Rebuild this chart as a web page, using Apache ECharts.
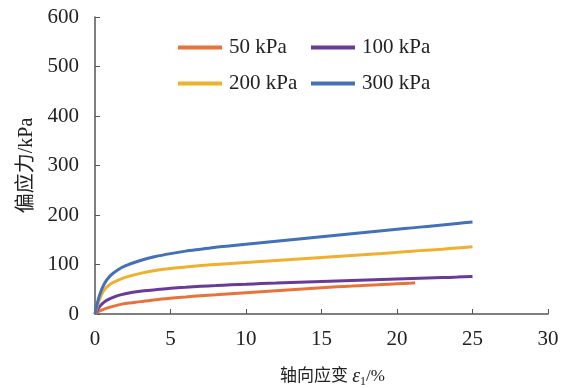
<!DOCTYPE html>
<html><head><meta charset="utf-8">
<script src="https://cdn.jsdelivr.net/npm/echarts@6/dist/echarts.min.js"></script>
<style>html,body{margin:0;padding:0;background:#fff}#c{width:566px;height:388px}</style>
</head><body><div id="c"></div>
<script>
const strain = [0, 0.1, 0.3, 0.6, 1, 1.5, 2, 3, 4, 5, 6, 7, 8, 9, 10, 11, 12, 13, 14, 15, 16, 17, 18, 19, 20, 21, 22, 23, 24, 25];
const strain50 = [0, 0.1, 0.3, 0.6, 1, 1.5, 2, 3, 4, 5, 6, 7, 8, 9, 10, 11, 12, 13, 14, 15, 16, 17, 18, 19, 20, 21, 21.2];
const s50  = [0, 2, 6, 10, 14, 18, 21, 25, 29, 32, 34.5, 37, 39, 41, 43, 45, 47, 49, 51, 53, 55, 56.5, 58, 59.5, 61, 62.5, 63];
const s100 = [0, 5, 15, 24, 31, 37, 41, 46, 49, 52, 54, 56, 57.5, 59, 60, 61.5, 62.5, 63.5, 64.5, 65.5, 66.5, 67.5, 68.5, 69.5, 70.5, 71.5, 72.5, 73.5, 74.5, 76];
const s200 = [0, 10, 30, 48, 60, 68, 74, 82, 88, 92, 95, 98, 100, 102, 104, 106, 108, 110, 112, 114, 116, 118, 120, 122, 124.5, 127, 129, 131, 133.5, 136];
const s300 = [0, 15, 38, 60, 77, 89, 97, 108, 116, 122, 127, 131, 135, 138, 141, 144, 147, 150, 153, 156, 159, 162, 165, 168, 171, 174, 177, 180, 183, 186];
const names = ['50 kPa', '100 kPa', '200 kPa', '300 kPa'];
const colors = ['#E8733A', '#6A3A98', '#F0B02E', '#4470B8'];
const xTicks = [0, 5, 10, 15, 20, 25, 30];
const yTicks = [0, 100, 200, 300, 400, 500, 600];

const pairs = (xs, ys) => xs.map((x, i) => [x, ys[i]]);
const serif = '"Liberation Serif", "Times New Roman", serif';
const mixed = '"Liberation Serif", "Noto Sans CJK SC", serif';
const axisColor = '#555';
const chart = echarts.init(document.getElementById('c'));
const legendPos = [[173, 32], [306, 32], [173, 68], [306, 68]];
const mkSeries = (i, xs, ys) => ({
  name: names[i], type: 'line', smooth: 0.3, showSymbol: false,
  data: pairs(xs, ys), lineStyle: {width: 3, color: colors[i]}, itemStyle: {color: colors[i]}
});
chart.setOption({
  animation: false,
  legend: names.map((n, i) => ({
    data: [n], left: legendPos[i][0], top: legendPos[i][1],
    itemWidth: 44, itemHeight: 4, itemGap: 0,
    icon: 'rect',
    textStyle: {fontFamily: serif, fontSize: 21, color: '#222', padding: [0, 0, 0, 2]}
  })),
  grid: {left: 95, right: 18, top: 17, bottom: 74, outerBoundsMode: 'none', containLabel: false},
  xAxis: {
    type: 'value', min: 0, max: 30, interval: 5,
    name: '轴向应变 {i|ε}{s|1}/%', nameLocation: 'middle', nameGap: 52,
    nameTextStyle: {fontFamily: mixed, fontSize: 17, color: '#222', padding: [0, 0, 0, 22],
      rich: {i: {fontFamily: serif, fontStyle: 'italic', fontSize: 20, color: '#222'},
             s: {fontFamily: serif, fontSize: 12, color: '#222', verticalAlign: 'bottom', padding: [10, 0, 0, 0]}}},
    axisLine: {lineStyle: {color: axisColor, width: 1.5}},
    axisTick: {inside: true, length: 5, lineStyle: {color: axisColor}},
    axisLabel: {fontFamily: serif, fontSize: 21, color: '#222', margin: 15},
    splitLine: {show: false}
  },
  yAxis: {
    type: 'value', min: 0, max: 600, interval: 100,
    name: '偏应力/kPa', nameLocation: 'middle', nameGap: 54,
    nameTextStyle: {fontFamily: mixed, fontSize: 20, color: '#222'},
    axisLine: {show: true, lineStyle: {color: axisColor, width: 1.5}},
    axisTick: {show: true, inside: true, length: 5, lineStyle: {color: axisColor}},
    axisLabel: {fontFamily: serif, fontSize: 21, color: '#222', margin: 16},
    splitLine: {show: false}
  },
  series: [
    mkSeries(0, strain50, s50),
    mkSeries(1, strain, s100),
    mkSeries(2, strain, s200),
    mkSeries(3, strain, s300)
  ]
});
</script></body></html>
